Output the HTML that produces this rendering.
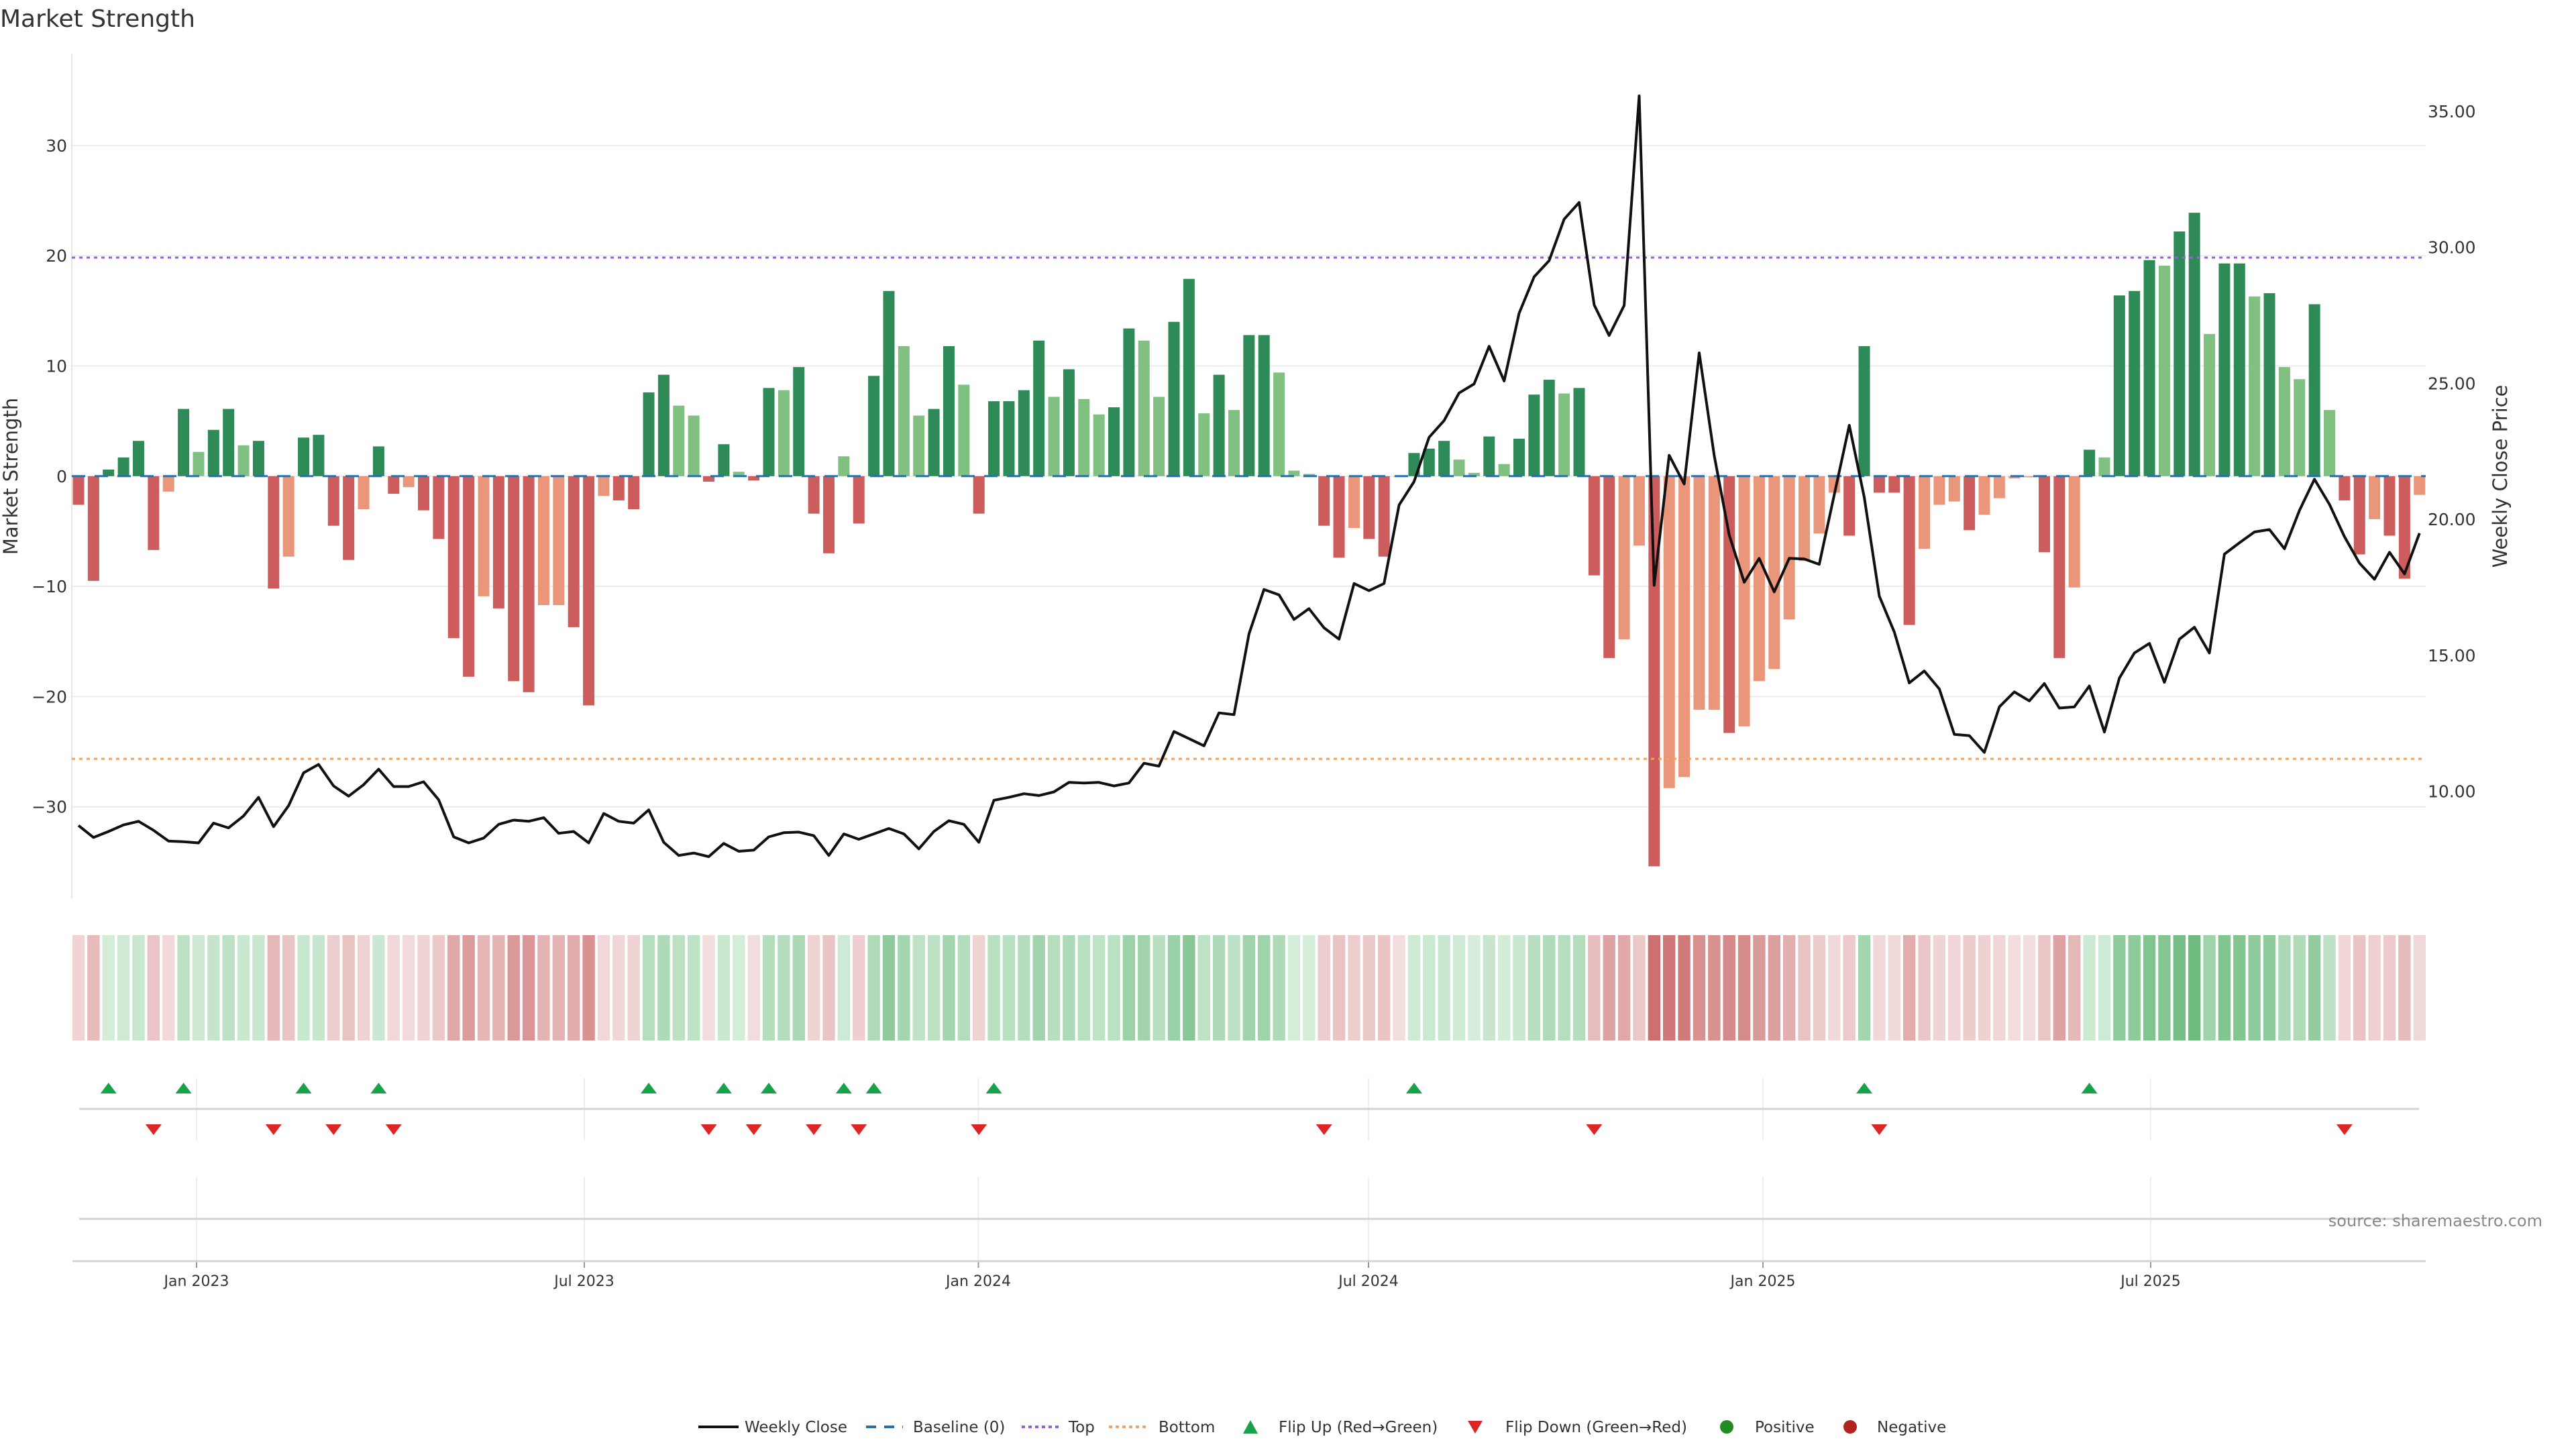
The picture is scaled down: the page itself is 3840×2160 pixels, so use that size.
<!DOCTYPE html>
<html><head><meta charset="utf-8"><style>
html,body{margin:0;padding:0;background:#fff;}
svg{display:block;font-family:"DejaVu Sans","Liberation Sans",sans-serif;}
</style></head><body>
<svg id="c" xmlns="http://www.w3.org/2000/svg" width="3840" height="2160" viewBox="0 0 3840 2160">
<rect width="3840" height="2160" fill="#fff"/>
<text x="0" y="40" font-size="36" fill="#333">Market Strength</text>
<g id="grid"></g>
<line x1="107" y1="80" x2="107" y2="1339" stroke="#e5e5e5" stroke-width="2"/>
<g id="bars"></g>
<line x1="107" y1="709.8" x2="3616" y2="709.8" stroke="#2a6fa8" stroke-width="3" stroke-dasharray="20,14"/>
<line x1="107" y1="384" x2="3616" y2="384" stroke="#9b5de5" stroke-width="3" stroke-dasharray="5,6"/>
<line x1="107" y1="1131.3" x2="3616" y2="1131.3" stroke="#f4a261" stroke-width="3" stroke-dasharray="5,6"/>
<polyline id="price" fill="none" stroke="#111" stroke-width="4" stroke-linejoin="round"/>
<g id="ylab" font-size="25" fill="#333" text-anchor="end"></g>
<g id="rlab" font-size="25" fill="#333" text-anchor="start"></g>
<text transform="translate(26,710) rotate(-90)" font-size="29" fill="#333" text-anchor="middle">Market Strength</text>
<text transform="translate(3737,710) rotate(-90)" font-size="29" fill="#333" text-anchor="middle">Weekly Close Price</text>
<g id="strip"></g>
<g id="vgrid"></g>
<line x1="118" y1="1653" x2="3606" y2="1653" stroke="#d0d4d8" stroke-width="3"/>
<line x1="118" y1="1817" x2="3606" y2="1817" stroke="#d0d4d8" stroke-width="3"/>
<line x1="108" y1="1880" x2="3616" y2="1880" stroke="#d0d4d8" stroke-width="3"/>
<g id="marks"></g>
<text x="3790" y="1828" font-size="24" fill="#888" text-anchor="end">source: sharemaestro.com</text>
<g font-size="23" fill="#333">
<line x1="1041" y1="2127" x2="1101" y2="2127" stroke="#111" stroke-width="4"/>
<text x="1110" y="2135">Weekly Close</text>
<line x1="1291" y1="2127" x2="1346" y2="2127" stroke="#2a6fa8" stroke-width="4" stroke-dasharray="15,12"/>
<text x="1361" y="2135">Baseline (0)</text>
<line x1="1523" y1="2127" x2="1580" y2="2127" stroke="#9b5de5" stroke-width="4" stroke-dasharray="5,5"/>
<text x="1593" y="2135">Top</text>
<line x1="1653" y1="2127" x2="1712" y2="2127" stroke="#f4a261" stroke-width="4" stroke-dasharray="5,5"/>
<text x="1727" y="2135">Bottom</text>
<polygon points="1864,2117 1875,2137 1853,2137" fill="#16a34a"/>
<text x="1906" y="2135">Flip Up (Red→Green)</text>
<polygon points="2188,2118 2210,2118 2199,2137" fill="#dc2626"/>
<text x="2244" y="2135">Flip Down (Green→Red)</text>
<circle cx="2574" cy="2127" r="10" fill="#228b22"/>
<text x="2616" y="2135">Positive</text>
<circle cx="2758" cy="2127" r="10" fill="#b22222"/>
<text x="2798" y="2135">Negative</text>
</g>
</svg>
<script>
var NS="http://www.w3.org/2000/svg";
function el(p,t,a,txt){var e=document.createElementNS(NS,t);for(var k in a)e.setAttribute(k,a[k]);if(txt!==undefined)e.textContent=txt;document.getElementById(p).appendChild(e);return e;}
var T="RRGGGRSGLGGLGRSGGRRSGRSRRRRSRRRSSRRSRRGGLLRGLRGLGRRLRGGLLGGLRGGGGLGLLGGLLGGLGLGGLLLRRSRRSGGGLLGLGGGLGRRSSRSSSSRSSSSSSSRGRRRSSSRSSSSRRSGLGGGLGGLGGLGLLGLRRSRRS";
var V=[-2.6,-9.5,0.6,1.7,3.2,-6.7,-1.4,6.1,2.2,4.2,6.1,2.8,3.2,-10.2,-7.3,3.5,3.75,-4.5,-7.6,-3.0,2.7,-1.6,-1.0,-3.1,-5.7,-14.7,-18.2,-10.9,-12.0,-18.6,-19.6,-11.7,-11.7,-13.7,-20.8,-1.8,-2.2,-3.0,7.6,9.2,6.4,5.5,-0.5,2.9,0.4,-0.4,8.0,7.8,9.9,-3.4,-7.0,1.8,-4.3,9.1,16.8,11.8,5.5,6.1,11.8,8.3,-3.4,6.8,6.8,7.8,12.3,7.2,9.7,7.0,5.6,6.25,13.4,12.3,7.2,14.0,17.9,5.7,9.2,6.0,12.8,12.8,9.4,0.5,0.2,-4.5,-7.4,-4.7,-5.7,-7.3,-0.05,2.1,2.5,3.2,1.5,0.3,3.6,1.1,3.4,7.4,8.75,7.5,8.0,-9.0,-16.5,-14.8,-6.3,-35.4,-28.3,-27.3,-21.2,-21.2,-23.3,-22.7,-18.6,-17.5,-13.0,-7.7,-5.2,-1.5,-5.4,11.8,-1.5,-1.5,-13.5,-6.6,-2.6,-2.3,-4.9,-3.5,-2.0,-0.2,-0.1,-6.9,-16.5,-10.1,2.4,1.7,16.4,16.8,19.6,19.1,22.2,23.9,12.9,19.3,19.3,16.3,16.6,9.9,8.8,15.6,6.0,-2.2,-7.1,-3.9,-5.4,-9.3,-1.7];
var P=[1378,1398,1388,1377,1371,1386,1404,1405,1407,1374,1382,1362,1331,1380,1345,1290,1276,1312,1329,1310,1284,1313,1313,1305,1335,1397,1407,1399,1376,1369,1371,1365,1391,1388,1407,1358,1371,1374,1352,1406,1428,1424,1430,1408,1421,1419,1397,1390,1389,1395,1428,1392,1401,1392,
1383,1392,1417,1388,1370,1376,1406,1336,1331,1325,1328,1322,1306,1307,1306,1312,1307,1274,1279,1221,1233,1245,1190,1193,1058,984,993,1034,1016,1048,1067,974,986,974,843,804,730,702,656,641,578,636,523,462,435,366,338,509,560,510,160,977,760,808,589,
760,893,972,932,988,932,933,942,826,710,830,995,1055,1140,1120,1150,1226,1228,1256,1180,1155,1170,1141,1182,1180,1145,1222,1132,1090,1074,1139,1067,1047,1090,925,906,888,884,916,852,800,842,896,940,967,922,958,890];
var col={G:"#2e8b57",L:"#80c080",R:"#cd5c5c",S:"#e9967a"};
function cx(i){return 117+22.37*i;}
function vy(v){return 709.8-v*16.43;}
[30,20,10,0,-10,-20,-30].forEach(function(v){
 el("grid","line",{x1:107,x2:3616,y1:vy(v),y2:vy(v),stroke:"#ececec","stroke-width":2});
 el("ylab","text",{x:100,y:vy(v)+9},v<0?"\u2212"+(-v):String(v));
});
[[35,166],[30,368.7],[25,571.4],[20,774],[15,977],[10,1179.5]].forEach(function(a){
 el("rlab","text",{x:3619,y:a[1]+9},a[0].toFixed(2));
});
var pts=[];
for(var i=0;i<157;i++){
 var v=V[i],y0=vy(0),y1=vy(v);
 el("bars","rect",{x:cx(i)-8.5,y:Math.min(y0,y1),width:17,height:Math.max(Math.abs(y1-y0),0.5),fill:col[T[i]]});
 var c1,c2,t;
 if(v>=0){t=Math.min(v/24,1);c1=[214,238,219];c2=[111,187,127];}
 else{t=Math.min(-v/30,1);c1=[243,222,222];c2=[205,112,112];}
 var r=Math.round(c1[0]+(c2[0]-c1[0])*t),g=Math.round(c1[1]+(c2[1]-c1[1])*t),b=Math.round(c1[2]+(c2[2]-c1[2])*t);
 el("strip","rect",{x:cx(i)-9.2,y:1394,width:18.4,height:157,fill:"rgb("+r+","+g+","+b+")"});
 pts.push(cx(i).toFixed(1)+","+(P[i]*0.893).toFixed(1));
}
document.getElementById("price").setAttribute("points",pts.join(" "));
var dates=[[293,"Jan 2023"],[871,"Jul 2023"],[1458.5,"Jan 2024"],[2040,"Jul 2024"],[2628,"Jan 2025"],[3206,"Jul 2025"]];
dates.forEach(function(d){
 el("vgrid","line",{x1:d[0],x2:d[0],y1:1607,y2:1700,stroke:"#eceef0","stroke-width":2});
 el("vgrid","line",{x1:d[0],x2:d[0],y1:1754,y2:1880,stroke:"#eceef0","stroke-width":2});
 el("vgrid","line",{x1:d[0],x2:d[0],y1:1880,y2:1890,stroke:"#999","stroke-width":2});
 el("vgrid","text",{x:d[0],y:1917,"font-size":22,fill:"#333","text-anchor":"middle"},d[1]);
});
[2,7,15,20,38,43,46,51,53,61,89,119,134].forEach(function(i){var x=cx(i);
 el("marks","polygon",{points:(x)+",1614 "+(x+12)+",1630 "+(x-12)+",1630",fill:"#16a34a"});});
[5,13,17,21,42,45,49,52,60,83,101,120,151].forEach(function(i){var x=cx(i);
 el("marks","polygon",{points:(x-12)+",1676 "+(x+12)+",1676 "+x+",1692",fill:"#dc2626"});});
</script>
</body></html>
